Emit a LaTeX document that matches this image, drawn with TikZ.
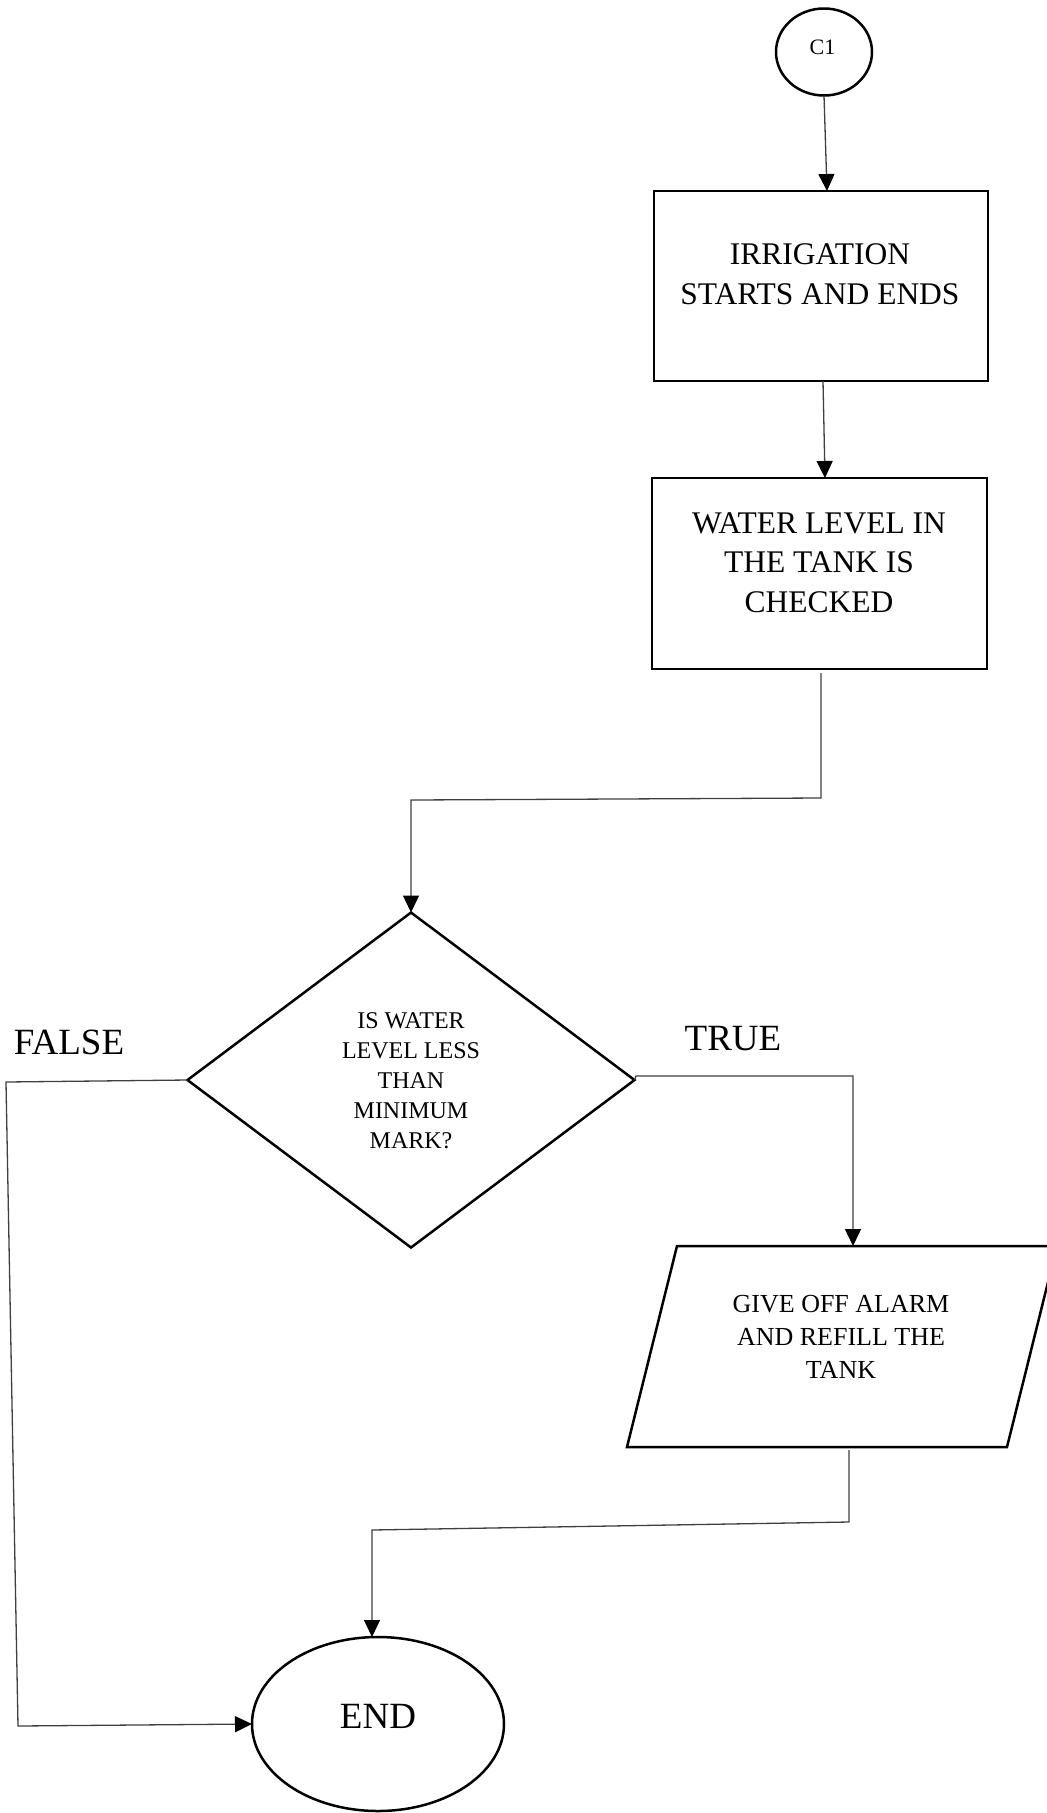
\documentclass[tikz,border=0pt]{standalone}
\usepackage{fontspec}
\setmainfont{Liberation Serif}
\usetikzlibrary{shapes.geometric,arrows.meta}
\begin{document}
\begin{tikzpicture}[x=1pt,y=-1pt,
  shapebox/.style={draw=black,line width=2.5pt,inner sep=0pt,outer sep=0pt},
  conn/.style={draw=black!75,line width=1.3pt},
  arr/.style={conn,-{Triangle[length=17pt,width=16pt,color=black]}},
  txt/.style={inner sep=0pt,align=center,text=black},
  bigtxt/.style={txt,font=\fontsize{31.5}{39.5}\selectfont},
  lbltxt/.style={txt,font=\fontsize{37}{44}\selectfont}]
\useasboundingbox (0,0) rectangle (1047,1813);
\fill[white] (0,0) rectangle (1047,1813);

% shapes
\node[shapebox,ellipse,minimum width=96pt,minimum height=87pt] (c1) at (824,52) {};
\node[shapebox,rectangle,minimum width=334pt,minimum height=190pt] (r1) at (821,286) {};
\node[shapebox,rectangle,minimum width=335pt,minimum height=191pt] (r2) at (819.5,573.5) {};
\node[shapebox,diamond,minimum width=447pt,minimum height=335pt] (d) at (411,1080) {};
\draw[shapebox] (677,1246) -- (1057,1246) -- (1007,1447) -- (627,1447) -- cycle;
\coordinate (pt) at (853,1246);
\coordinate (pb) at (849,1450);
\node[shapebox,ellipse,minimum width=252pt,minimum height=174pt] (en) at (378,1724) {};

% texts
\node[txt,font=\fontsize{22}{26}\selectfont] (c1t) at (822.5,47.5) {C1};
\node[bigtxt] (r1t) at (820,274) {IRRIGATION\\STARTS AND ENDS};
\node[bigtxt] (r2t) at (819,562.5) {WATER LEVEL IN\\THE TANK IS\\CHECKED};
\node[txt,font=\fontsize{24}{30}\selectfont] (dt) at (411,1081) {IS WATER\\LEVEL LESS\\THAN\\MINIMUM\\MARK?};
\node[txt,font=\fontsize{26}{33}\selectfont] (pt1) at (841,1336.5) {GIVE OFF ALARM\\AND REFILL THE\\TANK};
\node[lbltxt] (ent) at (378,1716) {END};
\node[lbltxt] (lf) at (69,1042.5) {FALSE};
\node[lbltxt] (lt) at (733,1038.5) {TRUE};

% connector bends
\coordinate (k1) at (821,798);
\coordinate (k2) at (411,800);
\coordinate (f1) at (6,1082);
\coordinate (f2) at (18,1726);
\coordinate (t0) at (636,1076);
\coordinate (t1) at (853,1076);
\coordinate (b1) at (849,1522);
\coordinate (b2) at (372,1530);

% connectors
\draw[arr] (c1.south) -- ([xshift=6pt]r1.north);
\draw[arr] ([xshift=2pt]r1.south) -- ([xshift=5.5pt]r2.north);
\draw[arr] ([xshift=1.5pt,yshift=-4pt]r2.south) -- (k1) -- (k2) -- (d.north);
\draw[arr] (d.west) -- (f1) -- (f2) -- (en.west);
\draw[arr] (d.east) -- (t0) -- (t1) -- (pt);
\draw[arr] (pb) -- (b1) -- (b2) -- (b2 |- en.north);
\end{tikzpicture}
\end{document}
